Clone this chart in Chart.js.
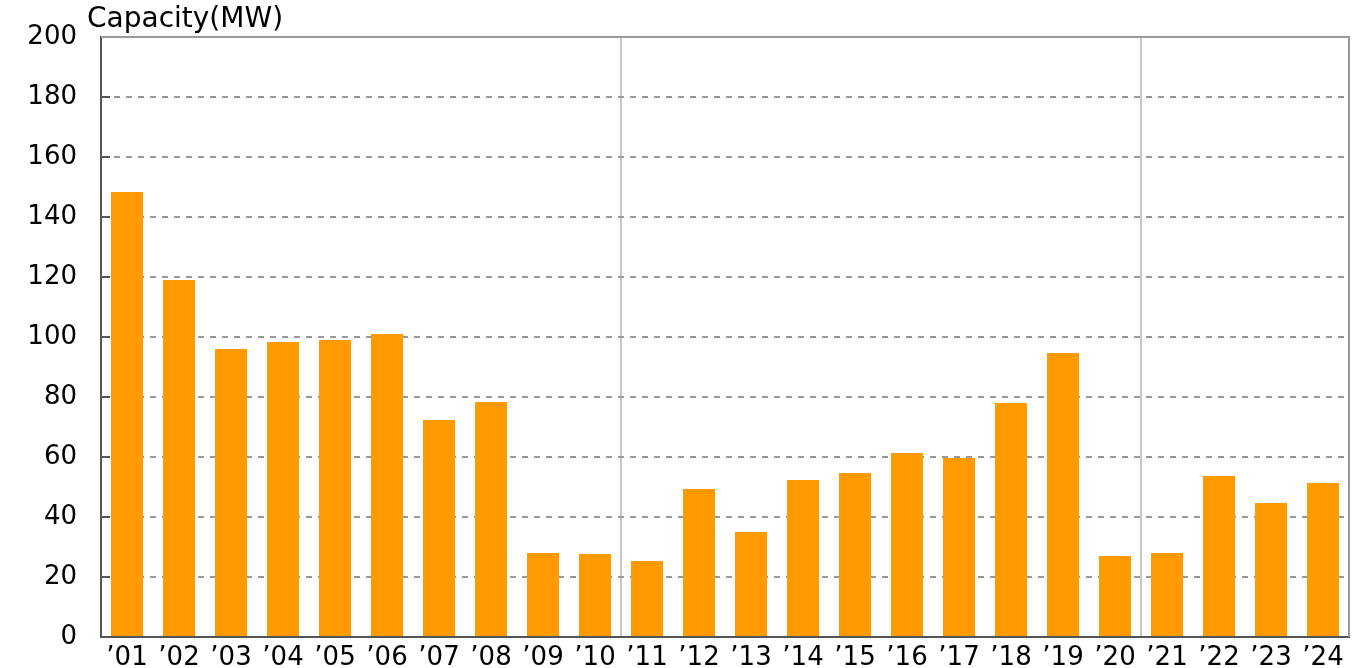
<!DOCTYPE html>
<html>
<head>
<meta charset="utf-8">
<script src="https://cdn.jsdelivr.net/npm/chart.js@4/dist/chart.umd.min.js"></script>
<style>
  html, body { margin: 0; padding: 0; background: #fff; }
  #wrap { width: 1352px; height: 668px; }
</style>
</head>
<body>
<div id="wrap"><canvas id="c" width="1352" height="668"></canvas></div>
<script>
const years = ["’01","’02","’03","’04","’05","’06","’07","’08","’09","’10","’11","’12","’13","’14","’15","’16","’17","’18","’19","’20","’21","’22","’23","’24"];
const capacityMW = [148.3,119,96,98.3,99,101,72.3,78.3,28,27.7,25.3,49.3,35,52.3,54.7,61.3,59.7,78,94.7,27,28,53.7,44.7,51.3];
const yTicks = [0,20,40,60,80,100,120,140,160,180,200];
const separatorIndices = [10, 20];
const axisTitle = "Capacity(MW)";

const FONT = "'DejaVu Sans', Verdana, sans-serif";
const FSIZE = 26;

const framePlugin = {
  id: 'frame',
  beforeDatasetsDraw(chart) {
    const ctx = chart.ctx, a = chart.chartArea, y = chart.scales.y;
    ctx.save();
    ctx.strokeStyle = '#555555';
    ctx.lineWidth = 2;
    yTicks.forEach(v => {
      const py = Math.round(y.getPixelForValue(v));
      ctx.beginPath();
      ctx.moveTo(a.left, py);
      ctx.lineTo(a.left + 9, py);
      ctx.stroke();
    });
    ctx.restore();
  },
  afterDraw(chart) {
    const ctx = chart.ctx, a = chart.chartArea;
    ctx.save();
    ctx.strokeStyle = '#999999';
    ctx.lineWidth = 2;
    ctx.beginPath();
    ctx.moveTo(a.left, a.top);
    ctx.lineTo(a.right, a.top);
    ctx.lineTo(a.right, a.bottom);
    ctx.stroke();
    ctx.fillStyle = '#000';
    ctx.font = '28px ' + FONT;
    ctx.textBaseline = 'alphabetic';
    ctx.textAlign = 'left';
    ctx.fillText(axisTitle, 87, 27);
    ctx.restore();
  }
};

new Chart(document.getElementById('c'), {
  type: 'bar',
  data: {
    labels: years,
    datasets: [{
      data: capacityMW,
      backgroundColor: '#FF9B00',
      borderWidth: 0,
      categoryPercentage: 1.0,
      barPercentage: 0.615
    }]
  },
  options: {
    responsive: false,
    animation: false,
    devicePixelRatio: 1,
    layout: { padding: { top: 37, right: 3, left: 0, bottom: 0 } },
    plugins: { legend: { display: false }, tooltip: { enabled: false }, title: { display: false } },
    scales: {
      x: {
        grid: {
          offset: true,
          drawTicks: false,
          lineWidth: 2,
          color: ctx => separatorIndices.includes(ctx.index) ? '#c8c8c8' : 'rgba(0,0,0,0)'
        },
        border: { display: true, color: '#555555', width: 2 },
        ticks: { color: '#000', font: { family: FONT, size: FSIZE, lineHeight: 1.0 }, padding: 8, maxRotation: 0, autoSkip: false },
        afterFit: s => { s.height = 31; }
      },
      y: {
        min: 0, max: 200,
        afterBuildTicks: s => { s.ticks = yTicks.map(v => ({ value: v })); },
        grid: { drawTicks: true, tickLength: 24, tickColor: 'rgba(0,0,0,0)', color: '#999999', lineWidth: 2 },
        border: { display: true, color: '#555555', width: 2, dash: [6, 6] },
        ticks: { color: '#000', font: { family: FONT, size: FSIZE, lineHeight: 1.0 }, padding: 0 },
        afterFit: s => { s.width = 101; }
      }
    }
  },
  plugins: [framePlugin]
});
</script>
</body>
</html>
